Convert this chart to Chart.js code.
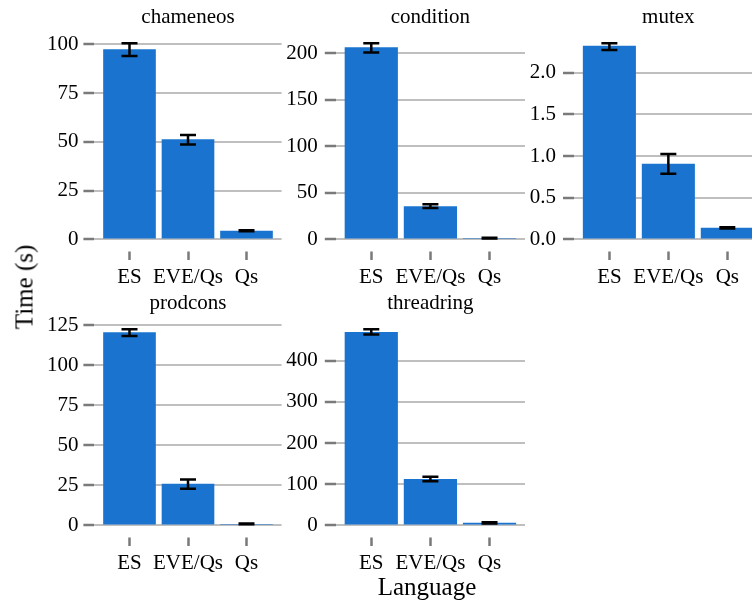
<!DOCTYPE html>
<html>
<head>
<meta charset="utf-8">
<script src="https://cdn.jsdelivr.net/npm/chart.js@4/dist/chart.umd.min.js"></script>
<style>
  html, body { margin: 0; padding: 0; background: #fff; overflow: hidden; width: 752px; height: 603px; }
  #fig { position: relative; width: 752px; height: 603px; overflow: hidden; }
  #fig canvas { position: absolute; }
  .lab { position: absolute; font-family: 'Liberation Serif', 'Times New Roman', serif; font-size: 25px; line-height: 1; color: #000; white-space: nowrap; }
  #ylab { left: 23.6px; top: 287px; transform: translate(-50%, -50%) rotate(-90deg); }
  #xlab { left: 427px; top: 585.6px; transform: translate(-50%, -50%); }
</style>
</head>
<body>
<div id="fig">
  <canvas id="chameneos" width="290" height="295" style="left:0px;top:0px"></canvas>
  <canvas id="condition" width="252" height="295" style="left:278px;top:0px"></canvas>
  <canvas id="mutex" width="252" height="295" style="left:518px;top:0px"></canvas>
  <canvas id="prodcons" width="290" height="295" style="left:0px;top:286px"></canvas>
  <canvas id="threadring" width="252" height="295" style="left:278px;top:286px"></canvas>
  <div class="lab" id="ylab">Time (s)</div>
  <div class="lab" id="xlab">Language</div>
</div>
<script>
// Languages compared in every benchmark
const categories = ['ES', 'EVE/Qs', 'Qs'];

// chameneos: mean time (s) and error-bar ends
const chameneosTime = [97.5, 51.4, 4.5];
const chameneosLow  = [94.1, 48.7, 4.2];
const chameneosHigh = [100.6, 53.6, 4.8];
const chameneosTicks = [0, 25, 50, 75, 100];
const chameneosTickLabels = ['0', '25', '50', '75', '100'];
const chameneosRange = [-5.03, 105.6];

// condition
const conditionTime = [206.4, 35.8, 1.5];
const conditionLow  = [201.0, 33.8, 1.0];
const conditionHigh = [210.8, 37.8, 2.0];
const conditionTicks = [0, 50, 100, 150, 200];
const conditionTickLabels = ['0', '50', '100', '150', '200'];
const conditionRange = [-10.54, 221.3];

// mutex
const mutexTime = [2.32, 0.907, 0.14];
const mutexLow  = [2.27, 0.787, 0.133];
const mutexHigh = [2.35, 1.023, 0.147];
const mutexTicks = [0, 0.5, 1, 1.5, 2];
const mutexTickLabels = ['0.0', '0.5', '1.0', '1.5', '2.0'];
const mutexRange = [-0.1175, 2.4675];

// prodcons
const prodconsTime = [120.8, 26.0, 1.0];
const prodconsLow  = [118.4, 22.9, 0.8];
const prodconsHigh = [122.6, 28.7, 1.2];
const prodconsTicks = [0, 25, 50, 75, 100, 125];
const prodconsTickLabels = ['0', '25', '50', '75', '100', '125'];
const prodconsRange = [-6.13, 128.7];

// threadring
const threadringTime = [469, 112.5, 6.5];
const threadringLow  = [463, 107, 5];
const threadringHigh = [476, 118, 8];
const threadringTicks = [0, 100, 200, 300, 400];
const threadringTickLabels = ['0', '100', '200', '300', '400'];
const threadringRange = [-23.8, 499.6];

const SERIF = "'Liberation Serif', 'Times New Roman', serif";
const BAR_BLUE = '#1a74cf';
const GRID_GREY = '#bfbfbf';
const TICK_GREY = '#7a7a7a';

// Draws vertical error bars with caps from the low/high arrays
const errorBars = {
  id: 'errorBars',
  afterDatasetsDraw(chart, args, opts) {
    const ctx = chart.ctx;
    const xs = chart.scales.x, ys = chart.scales.y;
    ctx.save();
    ctx.strokeStyle = '#000';
    ctx.lineWidth = 2.5;
    ctx.lineCap = 'butt';
    const cap = 8;
    opts.low.forEach((lo, i) => {
      const hi = opts.high[i];
      const px = xs.getPixelForValue(i + 1);
      const yl = ys.getPixelForValue(lo);
      const yh = ys.getPixelForValue(hi);
      ctx.beginPath();
      ctx.moveTo(px, yl); ctx.lineTo(px, yh);
      ctx.moveTo(px - cap, yl); ctx.lineTo(px + cap, yl);
      ctx.moveTo(px - cap, yh); ctx.lineTo(px + cap, yh);
      ctx.stroke();
    });
    ctx.restore();
  }
};

function panel(id, title, times, low, high, ticks, tickLabels, range, axisWidth, padRight, labelPad) {
  new Chart(document.getElementById(id), {
    type: 'bar',
    data: {
      datasets: [{
        data: times.map((v, i) => ({ x: i + 1, y: v })),
        backgroundColor: BAR_BLUE,
        borderWidth: 0,
        barPercentage: 0.9,
        categoryPercentage: 1.0
      }]
    },
    options: {
      responsive: false,
      animation: false,
      devicePixelRatio: 1,
      layout: { padding: { left: 0, right: padRight, top: 0, bottom: 0 } },
      plugins: {
        legend: { display: false },
        tooltip: { enabled: false },
        title: {
          display: true,
          text: title,
          fullSize: false,
          color: '#000',
          font: { family: SERIF, size: 21, weight: 'normal', lineHeight: 1.2 },
          padding: { top: 5.3, bottom: 3 }
        },
        errorBars: { low: low, high: high }
      },
      scales: {
        x: {
          type: 'linear',
          min: 0.4,
          max: 3.6,
          offset: false,
          afterBuildTicks: s => { s.ticks = categories.map((c, i) => ({ value: i + 1 })); },
          afterFit: s => { s.height = 45.7; },
          border: { display: false },
          grid: {
            offset: false,
            drawOnChartArea: false,
            drawTicks: true,
            tickLength: 11,
            tickWidth: 2.5,
            tickColor: TICK_GREY,
            tickBorderDash: [0, 2.6, 8.4, 100]
          },
          ticks: {
            autoSkip: false,
            maxRotation: 0,
            padding: 5,
            color: '#000',
            font: { family: SERIF, size: 21 },
            callback: (v, i) => categories[i]
          }
        },
        y: {
          min: range[0],
          max: range[1],
          afterBuildTicks: s => { s.ticks = ticks.map(v => ({ value: v })); },
          afterFit: s => { s.width = axisWidth; },
          border: { display: false },
          grid: {
            color: GRID_GREY,
            lineWidth: 2,
            drawTicks: true,
            tickLength: 11,
            tickWidth: 2.5,
            tickColor: TICK_GREY
          },
          ticks: {
            padding: labelPad,
            color: '#000',
            font: { family: SERIF, size: 21 },
            callback: (v, i) => tickLabels[i]
          }
        }
      }
    },
    plugins: [errorBars]
  });
}

panel('chameneos', 'chameneos', chameneosTime, chameneosLow, chameneosHigh,
      chameneosTicks, chameneosTickLabels, chameneosRange, 94.4, 8.4, 5);
panel('condition', 'condition', conditionTime, conditionLow, conditionHigh,
      conditionTicks, conditionTickLabels, conditionRange, 57.8, 5, 7);
panel('mutex', 'mutex', mutexTime, mutexLow, mutexHigh,
      mutexTicks, mutexTickLabels, mutexRange, 56, 7.3, 7);
panel('prodcons', 'prodcons', prodconsTime, prodconsLow, prodconsHigh,
      prodconsTicks, prodconsTickLabels, prodconsRange, 94.4, 8.4, 5);
panel('threadring', 'threadring', threadringTime, threadringLow, threadringHigh,
      threadringTicks, threadringTickLabels, threadringRange, 57.8, 5, 7);
</script>
</body>
</html>
